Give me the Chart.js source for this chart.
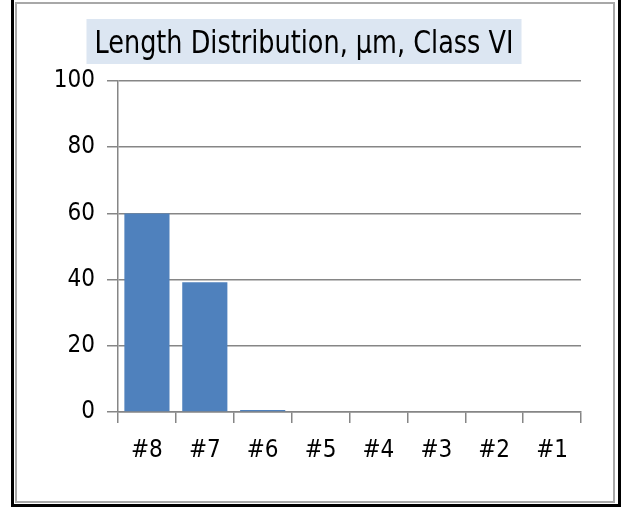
<!DOCTYPE html>
<html lang="en">
<head>
    <meta charset="UTF-8">
    <title>Length Distribution, µm, Class VI</title>
    <script src="https://cdn.jsdelivr.net/npm/chart.js@4.4.0/dist/chart.umd.min.js"></script>
    <style>
        * {
            margin: 0;
            padding: 0;
            box-sizing: border-box;
        }

        body {
            width: 621px;
            height: 507px;
            background: #fff;
            position: relative;
            overflow: hidden;
        }

        /* double frame around the chart */
        .frame-outer {
            position: absolute;
            left: 11px;
            top: -4px;
            width: 610px;
            height: 511px;
            border: 3px solid #000;
        }

        .frame-inner {
            position: absolute;
            left: 15px;
            top: 2px;
            width: 600px;
            height: 501px;
            border: 2px solid #a8a8a8;
        }

        .chart-box {
            position: absolute;
            left: 0;
            top: 0;
            width: 621px;
            height: 507px;
        }
    </style>
</head>
<body>
    <div class="frame-outer"></div>
    <div class="frame-inner"></div>
    <div class="chart-box">
        <canvas id="lengthChart" width="621" height="507"></canvas>
    </div>

    <script>
        // Data
        const categories = ['#8', '#7', '#6', '#5', '#4', '#3', '#2', '#1'];
        const percentValues = [60, 39.2, 0.6, 0, 0, 0, 0, 0];
        const yTicks = [0, 20, 40, 60, 80, 100];

        const chartTitle = 'Length Distribution, µm, Class VI';
        const fontFamily = "'Liberation Sans Narrow', 'DejaVu Sans Condensed', sans-serif";
        const axisGrey = '#868686';

        // Title with a pale blue box behind it (text squeezed to the narrow width of the original)
        const titleBox = {
            id: 'titleBox',
            afterDraw(chart) {
                const ctx = chart.ctx;
                ctx.save();
                ctx.font = '32px ' + fontFamily;
                const w = Math.min(ctx.measureText(chartTitle).width, 419);
                const cx = 304;
                ctx.fillStyle = '#dce6f2';
                ctx.fillRect(cx - w / 2 - 8, 19, w + 16, 45);
                ctx.fillStyle = '#000';
                ctx.textAlign = 'center';
                ctx.textBaseline = 'alphabetic';
                ctx.fillText(chartTitle, cx, 53, 419);
                ctx.restore();
            }
        };

        new Chart(document.getElementById('lengthChart'), {
            type: 'bar',
            data: {
                labels: categories,
                datasets: [{
                    data: percentValues,
                    backgroundColor: '#4f81bd',
                    barPercentage: 0.78,
                    categoryPercentage: 1.0
                }]
            },
            options: {
                responsive: false,
                animation: false,
                layout: {
                    padding: { left: 0, right: 40, top: 81, bottom: 0 }
                },
                plugins: {
                    legend: { display: false },
                    title: { display: false },
                    tooltip: { enabled: false }
                },
                scales: {
                    x: {
                        afterFit(scale) { scale.height = 95; },
                        grid: {
                            offset: true,
                            drawOnChartArea: false,
                            color: axisGrey,
                            lineWidth: 1.5,
                            tickLength: 11
                        },
                        border: { color: axisGrey, width: 1.5, z: -1 },
                        ticks: {
                            color: '#000',
                            padding: 13,
                            font: { family: fontFamily, size: 24 }
                        }
                    },
                    y: {
                        min: 0,
                        max: 100,
                        afterFit(scale) { scale.width = 118; },
                        afterBuildTicks(scale) {
                            scale.ticks = yTicks.map(v => ({ value: v }));
                        },
                        grid: {
                            color: axisGrey,
                            lineWidth: 1.5,
                            tickLength: 11,
                            z: -1
                        },
                        border: { color: axisGrey, width: 1.5 },
                        ticks: {
                            color: '#000',
                            padding: 12,
                            font: { family: fontFamily, size: 24 }
                        }
                    }
                }
            },
            plugins: [titleBox]
        });
    </script>
</body>
</html>
